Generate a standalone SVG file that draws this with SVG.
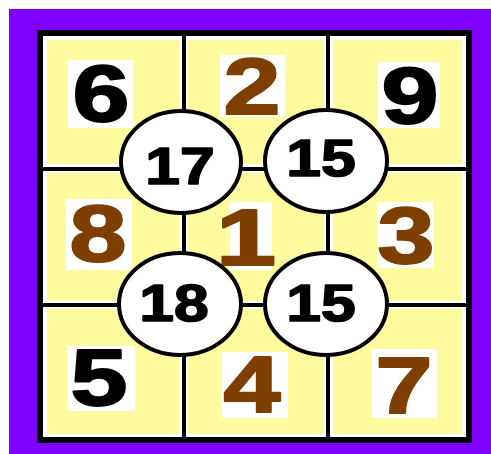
<svg xmlns="http://www.w3.org/2000/svg" width="491" height="454" viewBox="0 0 491 454">
<style>
.bg{fill:#ffffff}
.frame{fill:#8000ff}
.cell{fill:#fdfb9d}
.pad{fill:#ffffff}
.line{stroke:#000;stroke-width:4;fill:none}
.border{stroke:#000;stroke-width:6;fill:#ffffff}
.big{font-family:"Liberation Sans",Arial,sans-serif;font-weight:bold;font-size:80px;text-anchor:middle;stroke-width:2;stroke-linejoin:round}
.blk{fill:#000;stroke:#000}
.brn{fill:#7f3f00;stroke:#7f3f00}
.circ{fill:#fff;stroke:#000;stroke-width:4}
.sm{font-family:"Liberation Sans",Arial,sans-serif;font-weight:bold;font-size:52px;text-anchor:middle;fill:#000;stroke:#000;stroke-width:1.6;stroke-linejoin:round}
</style>
<rect class="bg" x="0" y="0" width="491" height="454"/>
<rect class="frame" x="9" y="9" width="482" height="445"/>
<rect class="border" x="40" y="33" width="429" height="407"/>

<g id="cell-6">
<rect class="cell" x="47" y="40" width="132" height="124"/>
<rect class="pad" x="68" y="60" width="65" height="68"/>
<text class="big blk" transform="translate(101,121) scale(1.28,1)">6</text>
</g>
<g id="cell-2">
<rect class="cell" x="188" y="40" width="136" height="124"/>
<rect class="pad" x="220" y="55" width="65" height="62"/>
<text class="big brn" transform="translate(252,114) scale(1.28,1)">2</text>
</g>
<g id="cell-9">
<rect class="cell" x="333" y="40" width="129" height="124"/>
<rect class="pad" x="378" y="62" width="62" height="66"/>
<text class="big blk" transform="translate(410,123) scale(1.28,1)">9</text>
</g>
<g id="cell-8">
<rect class="cell" x="47" y="173" width="132" height="128"/>
<rect class="pad" x="66" y="199" width="66" height="71"/>
<text class="big brn" transform="translate(98,261) scale(1.28,1)">8</text>
</g>
<g id="cell-1">
<rect class="cell" x="188" y="173" width="136" height="128"/>
<rect class="pad" x="230" y="202" width="42" height="68"/>
<text class="big brn" transform="translate(246,265) scale(1.35,1)">1</text>
</g>
<g id="cell-3">
<rect class="cell" x="333" y="173" width="129" height="128"/>
<rect class="pad" x="377" y="202" width="56" height="66"/>
<text class="big brn" transform="translate(406,263) scale(1.28,1)">3</text>
</g>
<g id="cell-5">
<rect class="cell" x="47" y="309" width="132" height="125"/>
<rect class="pad" x="67" y="346" width="68" height="65"/>
<text class="big blk" transform="translate(99,405) scale(1.28,1)">5</text>
</g>
<g id="cell-4">
<rect class="cell" x="188" y="309" width="136" height="125"/>
<rect class="pad" x="222" y="352" width="66" height="66"/>
<text class="big brn" transform="translate(252,412) scale(1.28,1)">4</text>
</g>
<g id="cell-7">
<rect class="cell" x="333" y="309" width="129" height="125"/>
<rect class="pad" x="372" y="349" width="65" height="69"/>
<text class="big brn" transform="translate(404,413) scale(1.28,1)">7</text>
</g>

<g id="grid">
<line class="line" x1="184" y1="33" x2="184" y2="440"/>
<line class="line" x1="328" y1="33" x2="328" y2="440"/>
<line class="line" x1="40" y1="169" x2="469" y2="169"/>
<line class="line" x1="40" y1="305" x2="469" y2="305"/>
</g>

<g id="sum-17">
<ellipse class="circ" cx="181" cy="162" rx="60" ry="51"/>
<text class="sm" transform="translate(180,184) scale(1.2,1)">17</text>
</g>
<g id="sum-15-top">
<ellipse class="circ" cx="326" cy="161" rx="61" ry="51"/>
<text class="sm" transform="translate(321,176) scale(1.2,1)">15</text>
</g>
<g id="sum-18">
<ellipse class="circ" cx="180" cy="304" rx="61" ry="51"/>
<text class="sm" transform="translate(174,321) scale(1.2,1)">18</text>
</g>
<g id="sum-15-bottom">
<ellipse class="circ" cx="326" cy="304" rx="61" ry="51"/>
<text class="sm" transform="translate(321,321) scale(1.2,1)">15</text>
</g>
</svg>
